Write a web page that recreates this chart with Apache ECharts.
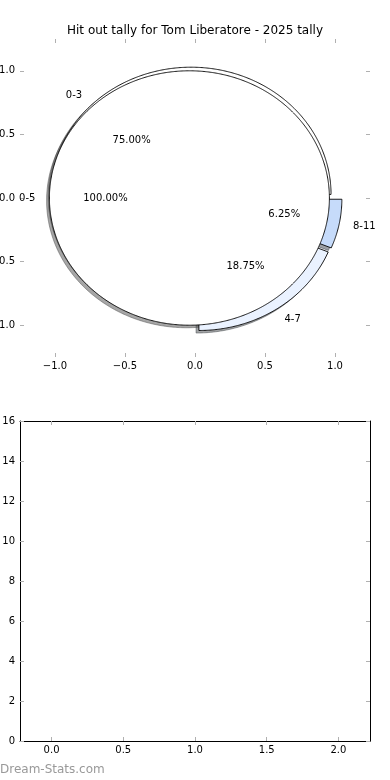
<!DOCTYPE html>
<html><head><meta charset="utf-8">
<script src="https://cdn.jsdelivr.net/npm/echarts@6/dist/echarts.min.js"></script>
<style>html,body{margin:0;padding:0;background:#fff}#c{width:390px;height:780px}</style>
</head><body><div id="c"></div>
<script>
// ---- data ----
const titleText = 'Hit out tally for Tom Liberatore - 2025 tally';
const outerCategories = ['0-3', '4-7', '8-11'];
const outerValues = [12, 3, 1];
const innerCategories = ['0-5'];
const innerValues = [16];
const topTicks = [-1, -0.5, 0, 0.5, 1];
const bottomXTicks = [0, 0.5, 1, 1.5, 2];
const bottomValues = [];
const watermark = 'Dream-Stats.com';

// ---- styles ----
const outerExplode = [0.04, 0.05, 0.05];
const innerExplode = [0.04];
const outerColors = [[255,255,255],[234,242,255],[198,219,250]];
const innerColors = [[255,255,255]];
const FONT = '"DejaVu Sans", "Liberation Sans", sans-serif';
const TICK = '#b0b0b0';

function geom(values, explode, i) {
  const total = values.reduce((a, b) => a + b, 0);
  let cum = 0;
  for (let k = 0; k < i; k++) cum += values[k];
  const t1 = 360 * cum / total, t2 = 360 * (cum + values[i]) / total;
  const mid = (t1 + t2) / 2 * Math.PI / 180;
  const d = explode[i] || 0;
  return { t1, t2, mid, cx: d * Math.cos(mid), cy: d * Math.sin(mid), pct: values[i] / total * 100 };
}
function pts(api, g, ox, oy) {
  const out = [];
  const full = Math.abs(g.t2 - g.t1 - 360) < 1e-9;
  if (!full) out.push(api.coord([g.cx + ox, g.cy + oy]));
  const n = Math.max(2, Math.ceil((g.t2 - g.t1) / 0.5));
  for (let k = 0; k <= n; k++) {
    const a = (g.t1 + (g.t2 - g.t1) * k / n) * Math.PI / 180;
    out.push(api.coord([g.cx + ox + Math.cos(a), g.cy + oy + Math.sin(a)]));
  }
  return out;
}
function rgb(c) { return 'rgb(' + c.join(',') + ')'; }
function shadowCol(c) { return 'rgba(' + c.map(v => Math.round(v * 0.3)).join(',') + ',0.5)'; }

function wedgeSeries(values, explode, colors, mode, z) {
  return {
    type: 'custom', coordinateSystem: 'cartesian2d', xAxisIndex: 0, yAxisIndex: 0, z: z,
    silent: true, clip: false,
    data: values.map((v, i) => [i, v]),
    encode: { x: -1, y: -1 },
    renderItem: function (params, api) {
      const i = params.dataIndex;
      const g = geom(values, explode, i);
      if (mode === 'shadow') {
        const c = shadowCol(colors[i]);
        return { type: 'polygon', shape: { points: pts(api, g, -0.02, -0.02) },
          style: { fill: c, stroke: c, lineWidth: 1 } };
      }
      return { type: 'polygon', shape: { points: pts(api, g, 0, 0) },
        style: { fill: rgb(colors[i]), stroke: '#000', lineWidth: 0.9 } };
    }
  };
}
function labelSeries(values, cats, explode) {
  return {
    type: 'custom', coordinateSystem: 'cartesian2d', xAxisIndex: 0, yAxisIndex: 0, z: 10,
    silent: true, clip: false,
    data: values.map((v, i) => [i, v]),
    encode: { x: -1, y: -1 },
    renderItem: function (params, api) {
      const i = params.dataIndex;
      const g = geom(values, explode, i);
      const c = Math.cos(g.mid), s = Math.sin(g.mid);
      const lp = api.coord([g.cx + 1.1 * c, g.cy + 1.1 * s]);
      const pp = api.coord([g.cx + 0.6 * c, g.cy + 0.6 * s]);
      const lx = g.cx + 1.1 * c;
      return { type: 'group', children: [
        { type: 'text', x: lp[0], y: lp[1], style: { text: cats[i], fill: '#000', fontSize: 10, fontFamily: FONT,
          align: lx < 0 ? 'right' : 'left', verticalAlign: 'middle' } },
        { type: 'text', x: pp[0], y: pp[1], style: { text: g.pct.toFixed(2) + '%', fill: '#000', fontSize: 10, fontFamily: FONT,
          align: 'center', verticalAlign: 'middle' } }
      ] };
    }
  };
}
const fmt = v => (v < 0 ? '\u2212' : '') + Math.abs(v).toFixed(1);
function tick(vals) { return { show: true, inside: true, length: 4, lineStyle: { color: TICK, width: 1 }, customValues: vals }; }
const lbl = { color: '#000', fontSize: 10, fontFamily: FONT };
const hiddenLine = { show: false, onZero: false };
const boxLine = { show: true, onZero: false, lineStyle: { color: '#000', width: 1 } };

const chart = echarts.init(document.getElementById('c'), null, { renderer: 'canvas' });
chart.setOption({
  animation: false,
  backgroundColor: '#fff',
  title: { text: titleText, left: 'center', top: 20, textStyle: { fontSize: 12, fontWeight: 'normal', color: '#000', fontFamily: FONT } },
  graphic: [{ type: 'text', left: 0, top: 764, style: { text: watermark, fill: '#999999', fontSize: 12, fontWeight: 'normal', fontFamily: FONT } }],
  grid: [
    { left: 20, top: 39, width: 350, height: 318, outerBoundsMode: 'none', containLabel: false },
    { left: 20, top: 421, width: 350, height: 320, outerBoundsMode: 'none', containLabel: false }
  ],
  xAxis: [
    { gridIndex: 0, type: 'value', position: 'bottom', min: -1.25, max: 1.25,
      axisLine: hiddenLine, splitLine: { show: false }, axisTick: tick(topTicks),
      axisLabel: Object.assign({ customValues: topTicks, formatter: fmt, margin: 4 }, lbl) },
    { gridIndex: 0, type: 'value', position: 'top', min: -1.25, max: 1.25,
      axisLine: hiddenLine, splitLine: { show: false }, axisTick: tick(topTicks), axisLabel: { show: false } },
    { gridIndex: 1, type: 'value', position: 'bottom', min: -0.22, max: 2.22,
      axisLine: boxLine, splitLine: { show: false },
      axisTick: tick(bottomXTicks), axisLabel: Object.assign({ customValues: bottomXTicks, formatter: v => v.toFixed(1), margin: 4 }, lbl) },
    { gridIndex: 1, type: 'value', position: 'top', min: -0.22, max: 2.22,
      axisLine: boxLine, splitLine: { show: false },
      axisTick: tick(bottomXTicks), axisLabel: { show: false } }
  ],
  yAxis: [
    { gridIndex: 0, type: 'value', position: 'left', min: -1.25, max: 1.25,
      axisLine: hiddenLine, splitLine: { show: false }, axisTick: tick(topTicks),
      axisLabel: Object.assign({ customValues: topTicks, formatter: fmt, margin: 5 }, lbl) },
    { gridIndex: 0, type: 'value', position: 'right', min: -1.25, max: 1.25,
      axisLine: hiddenLine, splitLine: { show: false }, axisTick: tick(topTicks), axisLabel: { show: false } },
    { gridIndex: 1, type: 'value', position: 'left', min: 0, max: 16, interval: 2,
      axisLine: boxLine, splitLine: { show: false },
      axisTick: { show: true, inside: true, length: 4, lineStyle: { color: TICK } },
      axisLabel: Object.assign({ margin: 5 }, lbl) },
    { gridIndex: 1, type: 'value', position: 'right', min: 0, max: 16, interval: 2,
      axisLine: boxLine, splitLine: { show: false },
      axisTick: { show: true, inside: true, length: 4, lineStyle: { color: TICK } }, axisLabel: { show: false } }
  ],
  series: [
    wedgeSeries(outerValues, outerExplode, outerColors, 'shadow', 1),
    wedgeSeries(innerValues, innerExplode, innerColors, 'shadow', 1),
    wedgeSeries(outerValues, outerExplode, outerColors, 'wedge', 2),
    wedgeSeries(innerValues, innerExplode, innerColors, 'wedge', 3),
    labelSeries(outerValues, outerCategories, outerExplode),
    labelSeries(innerValues, innerCategories, innerExplode),
    { type: 'bar', xAxisIndex: 2, yAxisIndex: 2, data: bottomValues }
  ]
});
</script></body></html>
